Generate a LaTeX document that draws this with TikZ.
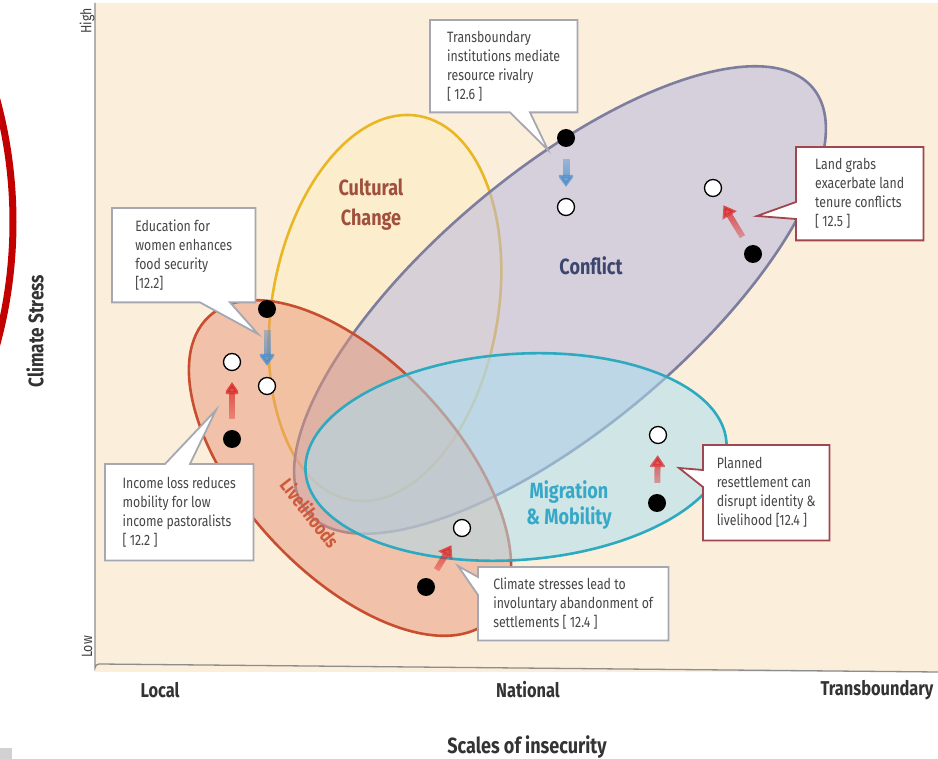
\documentclass[tikz,border=0pt]{standalone}
\usepackage{fontspec}
\setmainfont{Fira Sans}[FakeStretch=0.82]
\usetikzlibrary{arrows.meta,calc,fadings}
\pgfdeclarelayer{bg}
\pgfdeclarelayer{mid}
\pgfsetlayers{bg,mid,main}
\definecolor{beige}{RGB}{251,238,219}
\definecolor{axisgrey}{RGB}{140,140,140}
\definecolor{confline}{RGB}{125,125,158}
\definecolor{conffill}{RGB}{185,185,222}
\definecolor{cultline}{RGB}{232,183,35}
\definecolor{cultfill}{RGB}{255,240,180}
\definecolor{liveline}{RGB}{200,78,48}
\definecolor{livefill}{RGB}{232,150,120}
\definecolor{migline}{RGB}{45,170,192}
\definecolor{migfill}{RGB}{172,222,240}
\definecolor{boxgrey}{RGB}{165,168,178}
\definecolor{boxred}{RGB}{160,70,78}
\definecolor{txtgrey}{RGB}{70,70,70}
\definecolor{arrred}{RGB}{220,38,38}
\definecolor{arrblue}{RGB}{70,140,205}
\definecolor{culttxt}{RGB}{160,80,60}
\definecolor{conftxt}{RGB}{60,70,110}
\definecolor{migtxt}{RGB}{55,168,200}
\definecolor{livetxt}{RGB}{205,90,60}
\definecolor{markred}{RGB}{195,0,0}
\tikzfading[name=tailbottom, top color=transparent!0, bottom color=transparent!80]
\tikzfading[name=tailtop, top color=transparent!80, bottom color=transparent!0]
\begin{document}
\begin{tikzpicture}[x=1pt,y=-1pt,
  dotb/.style={circle, minimum size=18pt, inner sep=0pt, fill=black},
  dotw/.style={circle, minimum size=17pt, inner sep=0pt, fill=white, draw=black, line width=1.3pt},
  redarr/.style={line width=6pt, draw=arrred, -{Triangle[width=16pt,length=12pt]}, shorten <=11pt, shorten >=11pt, path fading=tailbottom},
  bluearr/.style={line width=7pt, draw=arrblue, -{Triangle[width=17pt,length=12pt]}, shorten <=12pt, shorten >=11pt, path fading=tailtop},
  ctext/.style={anchor=north west, inner sep=0pt, align=left, text=txtgrey, font=\fontsize{15}{19}\selectfont},
  greybox/.style={draw=boxgrey, line width=1.8pt, fill=white, line join=miter},
  redbox/.style={draw=boxred, line width=1.8pt, fill=white, line join=miter},
  axlab/.style={text=black!80, font=\bfseries\fontsize{20}{24}\selectfont},
  setlab/.style={font=\bfseries\fontsize{22}{30}\selectfont, align=center}
]
\useasboundingbox (0,0) rectangle (938,759);
\begin{pgfonlayer}{bg}
  % background and axes
  \fill[beige] (95,3) rectangle (938,672);
  \draw[axisgrey, line width=1.3pt] (95,3) -- (95,668) arc[start angle=180, end angle=270, radius=4] -- (938,672);
  % sets
  \draw[cultline, line width=2.6pt, fill=cultfill, fill opacity=0.35] (385,308) ellipse [x radius=195, y radius=113, rotate=80];
  \draw[confline, line width=2.6pt, fill=conffill, fill opacity=0.55] (560,300) ellipse [x radius=330, y radius=128, rotate=40];
  \draw[liveline, line width=2.6pt, fill=livefill, fill opacity=0.5] (350,468) ellipse [x radius=207, y radius=106, rotate=-47];
  \draw[migline, line width=2.6pt, fill=migfill, fill opacity=0.55] (516,457) ellipse [x radius=211, y radius=103, rotate=4];
  % red mark at left edge
  \begin{scope}
    \clip (0,0) rectangle (60,759);
    \draw[markred, line width=7pt] (-455,222) circle[radius=468];
  \end{scope}
  \fill[black!18] (0,748) rectangle (12,759);
\end{pgfonlayer}

% set labels
\node[setlab, text=culttxt] (lcult) at (371,205) {Cultural\\Change};
\node[setlab, text=conftxt] (lconf) at (591,266) {Conflict};
\node[setlab, text=migtxt, font=\bfseries\fontsize{22}{26}\selectfont] (lmig) at (569,505) {Migration\\\& Mobility};
\node[setlab, text=livetxt, rotate=-52, font=\bfseries\fontsize{19}{22}\selectfont] (llive) at (310,513) {Livelihoods};

% axis labels
\node[text=black!75, rotate=90, font=\fontsize{15}{16}\selectfont] (high) at (87,21) {High};
\node[text=black!75, rotate=90, font=\fontsize{15}{16}\selectfont] (low) at (87,647) {Low};
\node[axlab, rotate=90, font=\bfseries\fontsize{21}{24}\selectfont] (ystress) at (35,331) {Climate Stress};
\node[axlab] (xlocal) at (160,690) {Local};
\node[axlab] (xnat) at (528,690) {National};
\node[axlab] (xtrans) at (877,690) {Transboundary};
\node[axlab, font=\bfseries\fontsize{22}{24}\selectfont] (xscale) at (527,747) {Scales of insecurity};

% dots
\node[dotb] (cb) at (566,138) {};
\node[dotw] (cw) at (566,207) {};
\node[dotw] (lw) at (713,188) {};
\node[dotb] (lb) at (753,254) {};
\node[dotb] (eb) at (267,309) {};
\node[dotw] (ew) at (267,386) {};
\node[dotw] (iw) at (232,362) {};
\node[dotb] (ib) at (232,439) {};
\node[dotw] (pw) at (658,435) {};
\node[dotb] (pb) at (657,503) {};
\node[dotw] (sw) at (462,528) {};
\node[dotb] (sb) at (426,587) {};

% arrows
\draw[bluearr] (cb) -- (cw);
\draw[bluearr] (eb) -- (ew);
\draw[redarr] (lb) -- (lw);
\draw[redarr] (ib) -- (iw);
\draw[redarr] (pb) -- (pw);
\draw[redarr] (sb) -- (sw);

% callout texts
\node[ctext, minimum width=147pt, minimum height=92pt] (tb) at (430,20) {Transboundary\\institutions mediate\\resource rivalry\\{[} 12.6 {]}};
\node[ctext, minimum width=143pt, minimum height=94pt] (ed) at (112,208) {Education for\\women enhances\\food security\\{[}12.2{]}};
\node[ctext, minimum width=127pt, minimum height=93pt] (lg) at (796,147) {Land grabs\\exacerbate land\\tenure conflicts\\{[} 12.5 {]}};
\node[ctext, minimum width=148pt, minimum height=96pt] (il) at (105,464) {Income loss reduces\\mobility for low\\income pastoralists\\{[} 12.2 {]}};
\node[ctext, minimum width=126pt, minimum height=95pt] (pr) at (703,445) {Planned\\resettlement can\\disrupt identity \&\\livelihood {[}12.4 {]}};
\node[ctext, minimum width=190pt, minimum height=73pt] (cs) at (478,567) {Climate stresses lead to\\involuntary abandonment of\\settlements {[} 12.4 {]}};

% pointer tips
\coordinate (tbtip) at (548,150);
\coordinate (edtip) at (258,334);
\coordinate (lgtip) at (757,216);
\coordinate (iltip) at (216,410);
\coordinate (prtip) at (679,468);
\coordinate (cstip) at (458,566);

\begin{pgfonlayer}{mid}
  \draw[greybox] (tb.north west) -- (tb.north east) -- (tb.south east) -- ($(tb.south west)+(100,0)$) -- (tbtip) -- ($(tb.south west)+(80,0)$) -- (tb.south west) -- cycle;
  \draw[greybox] (ed.north west) -- (ed.north east) -- (ed.south east) -- ($(ed.south west)+(118,0)$) -- (edtip) -- ($(ed.south west)+(88,0)$) -- (ed.south west) -- cycle;
  \draw[redbox] (lg.north west) -- (lg.north east) -- (lg.south east) -- (lg.south west) -- ($(lg.north west)+(0,72)$) -- (lgtip) -- ($(lg.north west)+(0,55)$) -- cycle;
  \draw[greybox] (il.north west) -- ($(il.north west)+(60,0)$) -- (iltip) -- ($(il.north west)+(85,0)$) -- (il.north east) -- (il.south east) -- (il.south west) -- cycle;
  \draw[redbox] (pr.north west) -- (pr.north east) -- (pr.south east) -- (pr.south west) -- ($(pr.north west)+(0,42)$) -- (prtip) -- ($(pr.north west)+(0,25)$) -- cycle;
  \draw[greybox] (cs.north west) -- (cs.north east) -- (cs.south east) -- (cs.south west) -- ($(cs.north west)+(0,28)$) -- (cstip) -- ($(cs.north west)+(0,10)$) -- cycle;
\end{pgfonlayer}
\end{tikzpicture}
\end{document}
